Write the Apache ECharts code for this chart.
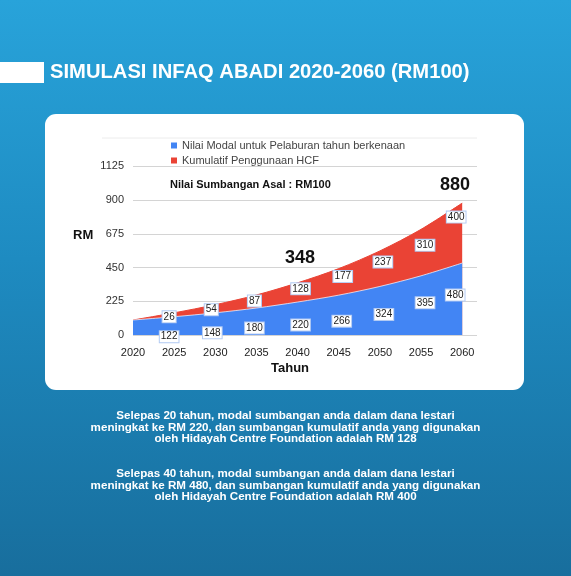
<!DOCTYPE html>
<html>
<head>
<meta charset="utf-8">
<script src="https://cdn.jsdelivr.net/npm/echarts@6/dist/echarts.min.js"></script>
<style>
html, body { margin: 0; padding: 0; }
#chart { width: 571px; height: 576px; }
</style>
</head>
<body>
<div id="chart"></div>
<script>
// data
const years = [2020, 2025, 2030, 2035, 2040, 2045, 2050, 2055, 2060];
const modalValues = [100, 122, 148, 180, 220, 266, 324, 395, 480];
const hcfValues = [0, 26, 54, 87, 128, 177, 237, 310, 400];
const yTicks = [0, 225, 450, 675, 900, 1125];
const seriesNames = ['Nilai Modal untuk Pelaburan tahun berkenaan', 'Kumulatif Penggunaan HCF'];
const guideValue = 80;

// both axes are value axes, and echarts would stack on x there,
// so the red band is drawn up to modal + hcf and the blue one goes over it
const stackTop = modalValues.map((v, i) => v + hcfValues[i]);

// label nudges (pixels) so the boxes sit where the original put them
const modalLabelShift = [[0, 0], [-5, 20], [-3, 20], [-2, 20], [3, 23], [3, 26], [4, 28], [4, 27], [-7, 32]];
const hcfLabelShift = [[0, 0], [-5, 4], [-4, 5], [-2, 6], [3, 6], [4, 8], [3, 11], [4, 16], [-6, 14]];

const FONT = 'Liberation Sans, Arial, sans-serif';

function points(values) {
    return years.map((y, i) => [y, values[i]]);
}

// the value boxes go in their own layer so neither area covers them
function labelSeries(values, shown, shifts) {
    return {
        type: 'scatter',
        z: 10,
        silent: true,
        symbolSize: 0,
        itemStyle: { opacity: 1 },
        label: {
            show: true,
            position: 'inside',
            fontFamily: FONT,
            fontSize: 10,
            color: '#222',
            opacity: 1,
            backgroundColor: '#fff',
            borderColor: '#b3cbf3',
            borderWidth: 1,
            padding: [1, 1, 0, 1],
            formatter: p => String(shown[p.dataIndex])
        },
        data: years.map((y, i) => ({
            value: [y, values[i]],
            label: { show: i > 0, offset: shifts[i] }
        }))
    };
}

const chart = echarts.init(document.getElementById('chart'));

chart.setOption({
    animation: false,
    graphic: [
        {
            type: 'rect', z: -10, silent: true,
            shape: { x: 0, y: 0, width: 571, height: 576 },
            style: {
                fill: new echarts.graphic.LinearGradient(0, 0, 0, 1, [
                    { offset: 0, color: '#28a3da' },
                    { offset: 0.45, color: '#1e8bc1' },
                    { offset: 1, color: '#186e9d' }
                ])
            }
        },
        {
            type: 'rect', z: -9, silent: true,
            shape: { x: 0, y: 62, width: 44, height: 21 },
            style: { fill: '#fff' }
        },
        {
            type: 'text', z: -9, left: 50, top: 62,
            style: {
                text: 'SIMULASI INFAQ ABADI 2020-2060 (RM100)',
                fill: '#fff', font: 'bold 20.2px ' + FONT
            }
        },
        {
            type: 'rect', z: -9, silent: true,
            shape: { x: 45, y: 114, width: 479, height: 276, r: 11 },
            style: { fill: '#fff' }
        },
        {
            type: 'line', z: -8, silent: true,
            shape: { x1: 102, y1: 138, x2: 477, y2: 138 },
            style: { stroke: '#ececec', lineWidth: 1 }
        },
        {
            type: 'text', z: 50, left: 170, top: 179,
            style: { text: 'Nilai Sumbangan Asal : RM100', fill: '#111', font: 'bold 11px ' + FONT }
        },
        {
            type: 'text', z: 50, left: 440, top: 176,
            style: { text: '880', fill: '#111', font: 'bold 18px ' + FONT }
        },
        {
            type: 'text', z: 50, left: 285, top: 249,
            style: { text: '348', fill: '#111', font: 'bold 18px ' + FONT }
        },
        {
            type: 'text', z: 50, left: 73, top: 229,
            style: { text: 'RM', fill: '#111', font: 'bold 13px ' + FONT }
        },
        {
            type: 'text', z: 50, left: 271, top: 362,
            style: { text: 'Tahun', fill: '#111', font: 'bold 13px ' + FONT }
        },
        {
            type: 'text', z: 50, x: 285.5, y: 410,
            style: {
                text: 'Selepas 20 tahun, modal sumbangan anda dalam dana lestari\nmeningkat ke RM 220, dan sumbangan kumulatif anda yang digunakan\noleh Hidayah Centre Foundation adalah RM 128',
                fill: '#fff', font: 'bold 11.6px ' + FONT, align: 'center', verticalAlign: 'top', lineHeight: 11.6
            }
        },
        {
            type: 'text', z: 50, x: 285.5, y: 468,
            style: {
                text: 'Selepas 40 tahun, modal sumbangan anda dalam dana lestari\nmeningkat ke RM 480, dan sumbangan kumulatif anda yang digunakan\noleh Hidayah Centre Foundation adalah RM 400',
                fill: '#fff', font: 'bold 11.6px ' + FONT, align: 'center', verticalAlign: 'top', lineHeight: 11.6
            }
        }
    ],
    legend: {
        orient: 'vertical',
        left: 166,
        top: 134,
        icon: 'rect',
        itemWidth: 6,
        itemHeight: 6,
        itemGap: 2,
        textStyle: { fontFamily: FONT, fontSize: 11, color: '#444', lineHeight: 13 },
        data: seriesNames
    },
    grid: { left: 133, right: 94, top: 166.4, bottom: 241 },
    xAxis: {
        type: 'value',
        min: years[0],
        max: 2061.8,
        interval: 5,
        axisLine: { show: false },
        axisTick: { show: false },
        splitLine: { show: false },
        axisLabel: {
            showMaxLabel: false,
            margin: 12,
            fontFamily: FONT,
            fontSize: 11,
            color: '#222',
            formatter: v => (v % 5 === 0 ? String(v) : '')
        }
    },
    yAxis: {
        type: 'value',
        min: yTicks[0],
        max: yTicks[yTicks.length - 1],
        interval: yTicks[1] - yTicks[0],
        axisLine: { show: false },
        axisTick: { show: false },
        splitLine: { lineStyle: { color: '#d4d4d4', width: 1 } },
        axisLabel: { margin: 9, fontFamily: FONT, fontSize: 11, color: '#333', formatter: v => String(v) }
    },
    series: [
        {
            name: seriesNames[1],
            type: 'line',
            z: 2,
            smooth: 0.3,
            showSymbol: false,
            itemStyle: { color: '#ea4335' },
            lineStyle: { color: '#ea4335', width: 1 },
            areaStyle: { color: '#ea4335', opacity: 1 },
            data: points(stackTop)
        },
        {
            name: seriesNames[0],
            type: 'line',
            z: 3,
            smooth: 0.3,
            showSymbol: false,
            itemStyle: { color: '#4285f4' },
            lineStyle: { color: 'rgba(255,255,255,0.7)', width: 1 },
            areaStyle: { color: '#4285f4', opacity: 1 },
            data: points(modalValues),
            markLine: {
                silent: true,
                symbol: 'none',
                label: { show: false },
                lineStyle: { color: '#f1c27a', width: 1, type: 'solid' },
                data: [[{ coord: [2019, guideValue] }, { coord: [years[years.length - 1], guideValue] }]]
            }
        },
        labelSeries(stackTop, hcfValues, hcfLabelShift),
        labelSeries(modalValues, modalValues, modalLabelShift)
    ]
});
</script>
</body>
</html>
